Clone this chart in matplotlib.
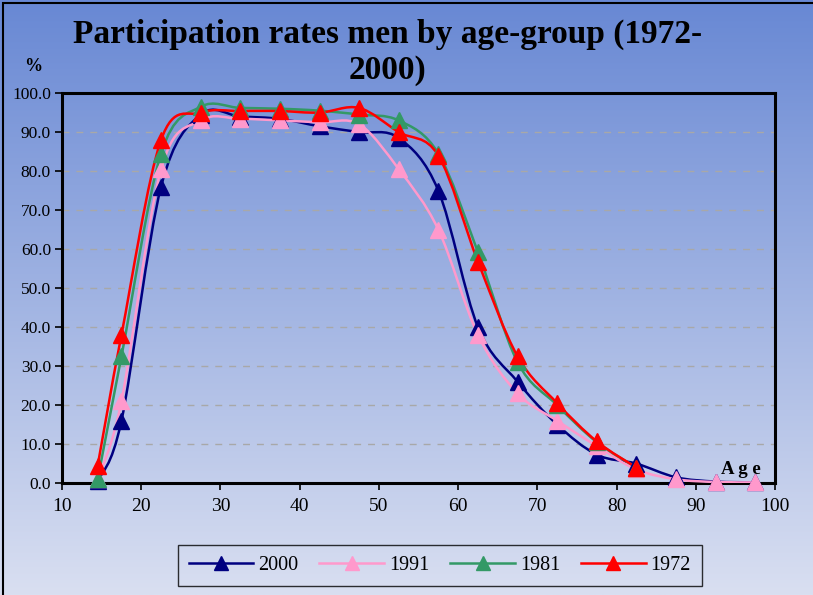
import numpy as np
import matplotlib.pyplot as plt
from matplotlib.path import Path
from matplotlib.patches import PathPatch, Rectangle
from matplotlib.lines import Line2D

# ---------------------------------------------------------------
# data
# ---------------------------------------------------------------
AGES = [14.5, 17.5, 22.5, 27.5, 32.5, 37.5, 42.5, 47.5, 52.5, 57.5,
        62.5, 67.5, 72.5, 77.5, 82.5, 87.5, 92.5, 97.5]

RATE_2000 = [0.5, 16.0, 76.0, 94.5, 94.0, 93.4, 91.5, 90.0, 88.5, 75.0,
             40.0, 26.0, 15.0, 7.3, 5.0, 1.5, 0.4, 0.2]
RATE_1991 = [1.0, 21.0, 80.5, 93.0, 93.4, 93.0, 92.5, 92.0, 80.5, 65.0,
             38.0, 23.0, 16.0, 9.5, 3.5, 1.0, 0.3, 0.2]
RATE_1981 = [1.0, 32.5, 84.5, 96.5, 96.2, 96.0, 95.5, 94.5, 93.0, 84.5,
             59.2, 31.0, 20.0, 10.5, 4.0]
RATE_1972 = [4.5, 38.0, 88.0, 95.0, 95.4, 95.4, 95.0, 96.2, 90.0, 84.0,
             56.8, 32.5, 20.5, 10.7, 4.0]

SERIES = [('2000', RATE_2000, '#000080'),
          ('1991', RATE_1991, '#FF99CC'),
          ('1981', RATE_1981, '#339966'),
          ('1972', RATE_1972, '#FF0000')]

SERIF = ['Liberation Serif', 'DejaVu Serif']


def smooth_path(xs, ys):
    # Catmull-Rom style bezier through the data points (like Excel "smoothed line")
    pts = np.column_stack([xs, ys]).astype(float)
    verts = [pts[0]]
    codes = [Path.MOVETO]
    n = len(pts)
    for i in range(n - 1):
        p0 = pts[i - 1] if i > 0 else pts[i]
        p1 = pts[i]
        p2 = pts[i + 1]
        p3 = pts[i + 2] if i + 2 < n else pts[i + 1]
        c1 = p1 + (p2 - p0) / 6.0
        c2 = p2 - (p3 - p1) / 6.0
        verts += [c1, c2, p2]
        codes += [Path.CURVE4] * 3
    return Path(verts, codes)


fig = plt.figure(figsize=(8.13, 5.95), dpi=100)

# background gradient for the whole chart
bg = fig.add_axes([0, 0, 1, 1], zorder=-10)
top_c = np.array([104, 136, 212]) / 255
bot_c = np.array([217, 223, 241]) / 255
t = np.linspace(0, 1, 256)[:, None, None]
grad = top_c * (1 - t) + bot_c * t
grad = np.repeat(grad, 2, axis=1)
bg.imshow(grad, aspect='auto', extent=[0, 1, 0, 1], origin='upper')
bg.set_xlim(0, 1)
bg.set_ylim(0, 1)
bg.axis('off')
bg.add_patch(Rectangle((0.004, -0.01), 1.2, 1.005, fill=False,
                       edgecolor='black', linewidth=1.5))

ax = fig.add_axes([0.0763, 0.188, 0.8770, 0.6555])
ax.patch.set_alpha(0)

for label, vals, color in SERIES:
    xs = AGES[:len(vals)]
    ax.add_patch(PathPatch(smooth_path(xs, vals), facecolor='none',
                           edgecolor=color, linewidth=1.8, zorder=3))
    ax.plot(xs, vals, linestyle='none', marker='^', markersize=12,
            color=color, markeredgecolor=color, zorder=4, clip_on=False)

ax.set_xlim(10, 100)
ax.set_ylim(0, 100)
ax.set_xticks(np.arange(10, 101, 10))
ax.set_yticks(np.arange(0, 101, 10))
ax.set_yticklabels([f'{v:.1f}' for v in np.arange(0, 101, 10)])

for lab in ax.get_xticklabels() + ax.get_yticklabels():
    lab.set_family(SERIF)
ax.tick_params(axis='x', labelsize=14, length=5, width=1.2, pad=6, direction='out')
ax.tick_params(axis='y', labelsize=12.5, length=5, width=1.2, pad=3, direction='out')

ax.grid(axis='y', linestyle=(0, (5, 5)), color='#a8a8a8', linewidth=1.0)
ax.set_axisbelow(True)
for sp in ax.spines.values():
    sp.set_linewidth(2.2)
    sp.set_color('black')

# texts
fig.text(0.477, 0.968, 'Participation rates men by age-group (1972-\n2000)',
         ha='center', va='top', family=SERIF, fontsize=24, fontweight='bold',
         linespacing=1.2)
fig.text(0.041, 0.888, '%', ha='center', va='center', family=SERIF,
         fontsize=13, fontweight='bold')
ax.text(95.7, 1.2, 'A g e', ha='center', va='bottom', family=SERIF,
        fontsize=13.5, fontweight='bold', zorder=5)

handles = [Line2D([0], [0], color=c, linewidth=1.8, marker='^', markersize=10,
                  markeredgecolor=c) for _, _, c in SERIES]
leg = fig.legend(handles, [s[0] for s in SERIES], loc='center',
                 bbox_to_anchor=(0.541, 0.05), ncol=4, frameon=True,
                 prop={'family': SERIF, 'size': 14.5}, handlelength=3.2,
                 handletextpad=0.25, columnspacing=1.05, borderpad=0.55,
                 fancybox=False)
leg.get_frame().set_edgecolor('black')
leg.get_frame().set_facecolor('none')
leg.get_frame().set_linewidth(1.0)

fig.savefig('out.png', dpi=100)
